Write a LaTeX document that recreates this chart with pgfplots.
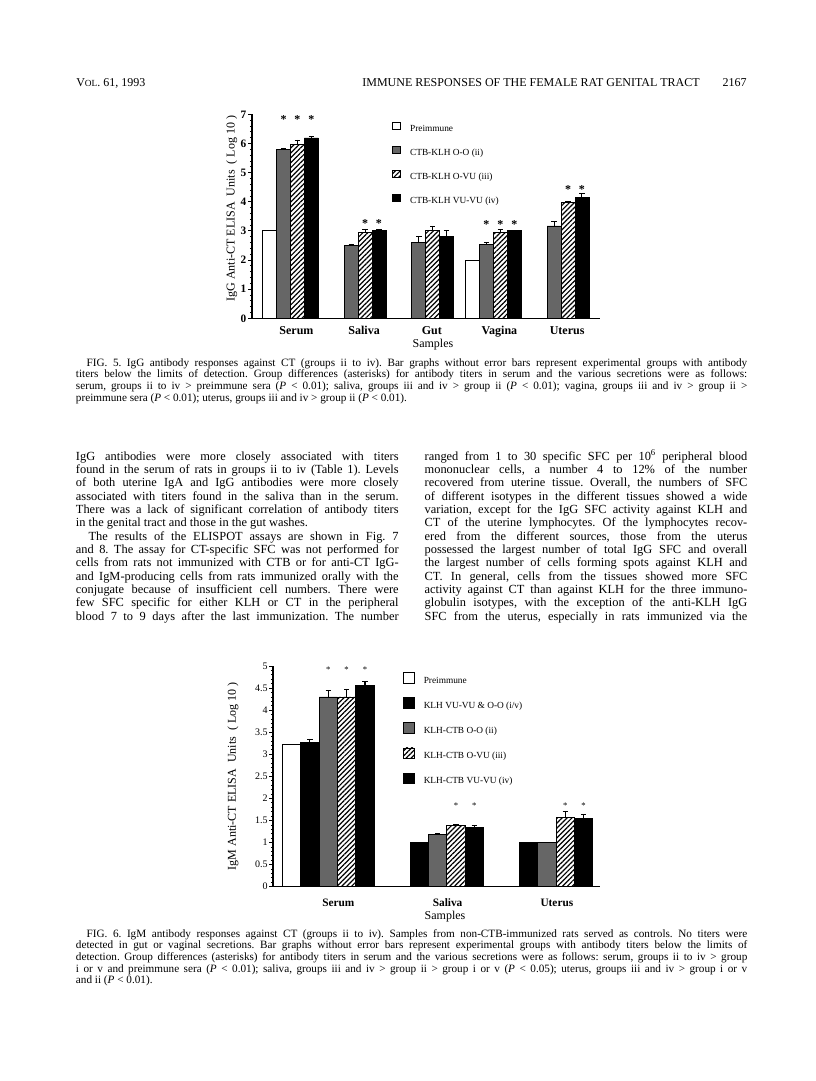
\documentclass[border=0pt]{standalone}
\usepackage{fontspec}
\setmainfont{Liberation Serif}
\usepackage{pgfplots}
\pgfplotsset{compat=1.18}
\usetikzlibrary{patterns.meta}

\newcommand{\fsz}[2]{\fontsize{#1}{#2}\selectfont}
\newcommand{\jl}[1]{\hbox to\hsize{#1}}
\newcommand{\nl}[1]{\hbox{#1}}
% a block of set lines: width, font size, leading, lines
\newcommand{\block}[4]{\vtop{\hsize=#1\relax\fsz{#2}{#3}\parindent=0pt\frenchspacing #4}}

% common look of both bar charts
\pgfplotsset{
  figbase/.style={
    scale only axis,
    axis x line*=bottom, axis y line*=left,
    axis line style={line width=0.9pt},
    ybar=0pt, ymin=0, clip=false,
    x tick style={draw=none},
    y tick style={line width=0.6pt,black},
    tick align=outside,
    major tick length=3pt, minor tick length=1.6pt,
    /pgf/number format/assume math mode=true,
    error bars/y dir=plus, error bars/y explicit,
    error bars/error mark=-,
    error bars/error bar style={line width=0.8pt,black},
    legend cell align=left,
  },
  pre/.style={fill=white,draw=black,line width=0.6pt},
  oo/.style={fill=black!60,draw=black,line width=0.6pt},
  ovu/.style={pattern={Lines[angle=45,distance=2.6pt,line width=0.9pt]},draw=black,line width=0.6pt},
  vv/.style={fill=black,draw=black,line width=0.6pt},
  keyA/.style={legend image code/.code={\draw[##1,line width=0.6pt] (0pt,-0.7pt) rectangle (5.8pt,5.1pt); \path (13pt,0pt);}},
  keyB/.style={legend image code/.code={\draw[##1,line width=0.6pt] (0pt,-1.8pt) rectangle (8pt,6.2pt); \path (15pt,0pt);}},
}

\begin{document}
\begin{tikzpicture}
\fill[white] (0pt,0pt) rectangle (612pt,-810.75pt);
\path[use as bounding box] (0pt,0pt) rectangle (612pt,-810.75pt);

% ---------------- FIG. 5 ----------------
\begin{axis}[figbase,
  at={(189pt,-238.725pt)}, anchor=south west,
  width=261pt, height=153pt,
  xmin=-0.569, xmax=4.575, ymax=7,
  bar width=0.2055,
  xtick={0,1,2,3,4}, xticklabels={Serum,Saliva,Gut,Vagina,Uterus},
  xticklabel style={anchor=base, yshift=-9.3pt, xshift=4.5pt, font=\bfseries\fsz{9}{9}},
  ytick={0,1,2,3,4,5,6,7}, minor y tick num=4,
  yticklabel style={font=\bfseries\fsz{8.5}{8.5}, inner sep=1pt},
  ylabel={IgG Anti-CT ELISA\ \ Units\ \ ( Log 10 )},
  ylabel style={at={(axis description cs:-0.058,0.538)}, anchor=center, font=\fsz{9}{9}},
  xlabel={Samples},
  xlabel style={at={(axis description cs:0.52,-0.131)}, anchor=center, font=\fsz{9}{9}},
  legend style={at={(axis description cs:0.4014,0.966)}, anchor=north west,
    draw=none, fill=none, inner sep=0pt, row sep=9.4pt,
    font=\fsz{7}{7}, nodes={inner sep=0pt, text height=5pt, text depth=1.5pt}},
]
\addplot[pre,keyA] coordinates {(0,3.00) (3,1.98)};
\addplot[oo,keyA] coordinates {(0,5.80) +- (0,0.05) (1,2.49) +- (0,0.06) (2,2.60) +- (0,0.20) (3,2.52) +- (0,0.08) (4,3.17) +- (0,0.15)};
\addplot[ovu,keyA] coordinates {(0,5.97) +- (0,0.15) (1,2.96) +- (0,0.11) (2,3.02) +- (0,0.15) (3,2.95) +- (0,0.09) (4,3.96) +- (0,0.06)};
\addplot[vv,keyA] coordinates {(0,6.19) +- (0,0.06) (1,3.00) +- (0,0.04) (2,2.81) +- (0,0.21) (3,3.00) +- (0,0.02) (4,4.14) +- (0,0.14)};
\legend{Preimmune, CTB-KLH O-O (ii), CTB-KLH O-VU (iii), CTB-KLH VU-VU (iv)}
\begin{scope}[every node/.style={font=\bfseries\fsz{9}{9}, inner sep=0pt, yshift=-1.2pt}]
\node at (axis cs:-0.103,6.87) {*};
\node at (axis cs:0.103,6.87) {*};
\node at (axis cs:0.308,6.87) {*};
\node at (axis cs:1.103,3.32) {*};
\node at (axis cs:1.308,3.32) {*};
\node at (axis cs:2.897,3.28) {*};
\node at (axis cs:3.103,3.28) {*};
\node at (axis cs:3.308,3.28) {*};
\node at (axis cs:4.103,4.46) {*};
\node at (axis cs:4.308,4.46) {*};
\end{scope}
\end{axis}

% ---------------- FIG. 6 ----------------
\begin{axis}[figbase,
  at={(204.75pt,-665.025pt)}, anchor=south west,
  width=245.25pt, height=165.5pt,
  xmin=-0.506, xmax=2.486, ymax=5,
  bar width=0.168,
  xtick={0,1,2}, xticklabels={Serum,Saliva,Uterus},
  xticklabel style={anchor=base, yshift=-11.5pt, xshift=7.5pt, font=\bfseries\fsz{8.5}{8.5}},
  ytick={0,0.5,1,1.5,2,2.5,3,3.5,4,4.5,5}, minor y tick num=4,
  yticklabel style={font=\fsz{7.5}{7.5}, inner sep=0.8pt},
  ylabel={IgM Anti-CT ELISA\ \ Units\ \ ( Log 10 )},
  ylabel style={at={(axis description cs:-0.122,0.5)}, anchor=center, font=\fsz{9}{9}},
  xlabel={Samples},
  xlabel style={at={(axis description cs:0.526,-0.137)}, anchor=center, font=\fsz{9}{9}},
  legend style={at={(axis description cs:0.3966,0.9728)}, anchor=north west,
    draw=none, fill=none, inner sep=0pt, row sep=9.06pt,
    font=\fsz{7}{7}, nodes={inner sep=0pt, text height=5pt, text depth=1.5pt}},
]
\addplot[pre,keyB] coordinates {(0,3.22) +- (0,0.01)};
\addplot[vv,keyB] coordinates {(0,3.26) +- (0,0.09) (1,1.00) (2,1.00)};
\addplot[oo,keyB] coordinates {(0,4.30) +- (0,0.15) (1,1.18) +- (0,0.03) (2,1.00)};
\addplot[ovu,keyB] coordinates {(0,4.30) +- (0,0.18) (1,1.39) +- (0,0.02) (2,1.57) +- (0,0.14)};
\addplot[vv,keyB] coordinates {(0,4.57) +- (0,0.08) (1,1.35) +- (0,0.05) (2,1.54) +- (0,0.10)};
\legend{Preimmune, KLH VU-VU \& O-O (i/v), KLH-CTB O-O (ii), KLH-CTB O-VU (iii), KLH-CTB VU-VU (iv)}
\begin{scope}[every node/.style={font=\fsz{6.5}{6.5}, inner sep=0pt, yshift=-0.8pt}]
\node at (axis cs:0,4.94) {*};
\node at (axis cs:0.168,4.94) {*};
\node at (axis cs:0.336,4.94) {*};
\node at (axis cs:1.168,1.85) {*};
\node at (axis cs:1.336,1.85) {*};
\node at (axis cs:2.168,1.85) {*};
\node at (axis cs:2.336,1.85) {*};
\end{scope}
\end{axis}

% ---------------- page text ----------------
\begin{scope}[x=0.75pt,y=-0.75pt]
\node[anchor=base west, inner sep=0pt, font=\fsz{9}{10}] at (76,86) {V{\fsz{7}{7}OL}. 61, 1993};
\node[anchor=base east, inner sep=0pt, font=\fsz{9}{10}] at (700,86) {IMMUNE RESPONSES OF THE FEMALE RAT GENITAL TRACT};
\node[anchor=base east, inner sep=0pt, font=\fsz{9}{10}] at (747,86) {2167};

\node[anchor=base west, inner sep=0pt] at (75.7,366) {\block{503.5pt}{8.4}{8.8}{%
\jl{\hspace*{8pt}FIG. 5. IgG antibody responses against CT (groups ii to iv). Bar graphs without error bars represent experimental groups with antibody}
\jl{titers below the limits of detection. Group differences (asterisks) for antibody titers in serum and the various secretions were as follows:}
\jl{serum, groups ii to iv > preimmune sera (\textit{P} < 0.01); saliva, groups iii and iv > group ii (\textit{P} < 0.01); vagina, groups iii and iv > group ii >}
\nl{preimmune sera (\textit{P} < 0.01); uterus, groups iii and iv > group ii (\textit{P} < 0.01).}}};

\node[anchor=base west, inner sep=0pt] at (75.7,460.3) {\block{242pt}{9.3}{10}{%
\jl{IgG antibodies were more closely associated with titers}
\jl{found in the serum of rats in groups ii to iv (Table 1). Levels}
\jl{of both uterine IgA and IgG antibodies were more closely}
\jl{associated with titers found in the saliva than in the serum.}
\jl{There was a lack of significant correlation of antibody titers}
\nl{in the genital tract and those in the gut washes.}
\jl{\hspace*{9.5pt}The results of the ELISPOT assays are shown in Fig. 7}
\jl{and 8. The assay for CT-specific SFC was not performed for}
\jl{cells from rats not immunized with CTB or for anti-CT IgG-}
\jl{and IgM-producing cells from rats immunized orally with the}
\jl{conjugate because of insufficient cell numbers. There were}
\jl{few SFC specific for either KLH or CT in the peripheral}
\jl{blood 7 to 9 days after the last immunization. The number}}};

\node[anchor=base west, inner sep=0pt] at (424.4,460.3) {\block{242pt}{9.3}{10}{%
\jl{ranged from 1 to 30 specific SFC per 10\textsuperscript{6} peripheral blood}
\jl{mononuclear cells, a number 4 to 12\% of the number}
\jl{recovered from uterine tissue. Overall, the numbers of SFC}
\jl{of different isotypes in the different tissues showed a wide}
\jl{variation, except for the IgG SFC activity against KLH and}
\jl{CT of the uterine lymphocytes. Of the lymphocytes recov-}
\jl{ered from the different sources, those from the uterus}
\jl{possessed the largest number of total IgG SFC and overall}
\jl{the largest number of cells forming spots against KLH and}
\jl{CT. In general, cells from the tissues showed more SFC}
\jl{activity against CT than against KLH for the three immuno-}
\jl{globulin isotypes, with the exception of the anti-KLH IgG}
\jl{SFC from the uterus, especially in rats immunized via the}}};

\node[anchor=base west, inner sep=0pt] at (75.7,937) {\block{503.5pt}{8.4}{8.8}{%
\jl{\hspace*{8pt}FIG. 6. IgM antibody responses against CT (groups ii to iv). Samples from non-CTB-immunized rats served as controls. No titers were}
\jl{detected in gut or vaginal secretions. Bar graphs without error bars represent experimental groups with antibody titers below the limits of}
\jl{detection. Group differences (asterisks) for antibody titers in serum and the various secretions were as follows: serum, groups ii to iv > group}
\jl{i or v and preimmune sera (\textit{P} < 0.01); saliva, groups iii and iv > group ii > group i or v (\textit{P} < 0.05); uterus, groups iii and iv > group i or v}
\nl{and ii (\textit{P} < 0.01).}}};
\end{scope}
\end{tikzpicture}
\end{document}
